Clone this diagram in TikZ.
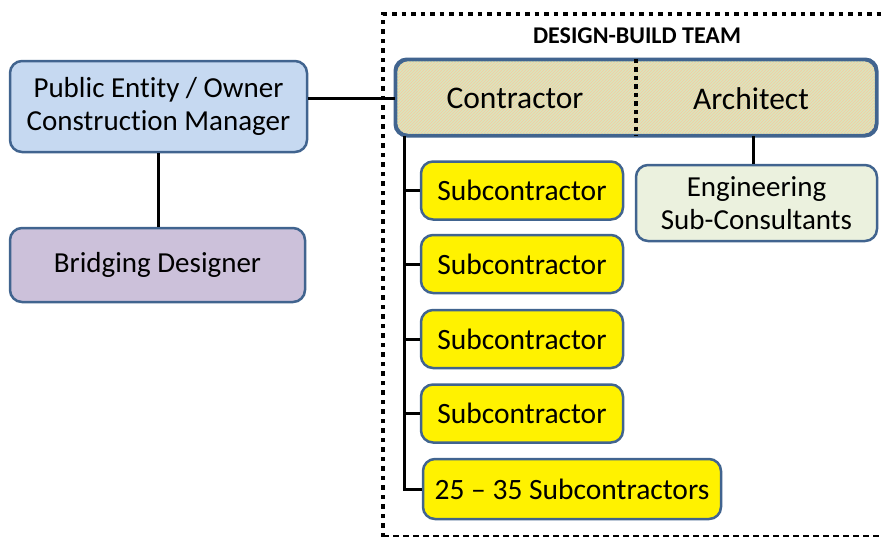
\documentclass[tikz,border=0pt]{standalone}
\usepackage{fontspec}
\setmainfont{Carlito}[Ligatures=NoCommon]
\usetikzlibrary{patterns}
\definecolor{edgeblue}{HTML}{41648F}
\definecolor{ownerfill}{HTML}{C6D9F1}
\definecolor{bridgefill}{HTML}{CCC1DA}
\definecolor{engfill}{HTML}{EBF1DE}
\definecolor{teamgreen}{HTML}{D8E6BE}
\definecolor{teamorange}{HTML}{F8C8A0}
\tikzset{
  orgbox/.style={draw=edgeblue, line width=2.5pt, rounded corners=12pt,
    align=center, inner sep=0pt, text=black,
    font=\fontsize{29}{33}\selectfont},
  subbox/.style={orgbox, fill=yellow, minimum width=202pt, minimum height=58pt,
    font=\fontsize{29.5}{33}\selectfont},
  link/.style={line width=3pt, black},
  teamedge/.style={line width=4.5pt, dash pattern=on 4.5pt off 5pt},
  bigtext/.style={font=\fontsize{31.5}{36}\selectfont, inner sep=0pt}
}
\begin{document}
\begin{tikzpicture}[x=1pt, y=-1pt]
\useasboundingbox (0,0) rectangle (881,536);

% design-build team frame (right side runs off the page)
\draw[teamedge] (383,537) -- (383,14) -- (900,14);
\draw[line width=2pt, dash pattern=on 6pt off 4pt] (383,535.5) -- (900,535.5);
\node[font=\fontsize{24}{28}\selectfont\bfseries, inner sep=0pt] (title) at (637,36) {DESIGN-BUILD TEAM};

% owner side
\node[orgbox, fill=ownerfill, minimum width=297pt, minimum height=91pt] (owner) at (158.5,106.5)
  {Public Entity / Owner\\Construction Manager};
\node[orgbox, fill=bridgefill, minimum width=295pt, minimum height=74pt] (bridge) at (157.5,265)
  {Bridging Designer};

% contractor / architect team box
\node[orgbox, fill=teamgreen, minimum width=480pt, minimum height=75pt] (team) at (636,97.5) {};
\path[pattern=north east lines, pattern color=teamorange, rounded corners=10pt]
  (397.5,61.5) rectangle (874.5,133.5);
\draw[draw=edgeblue, line width=2.5pt, rounded corners=12pt] (team.north west) rectangle (team.south east);
\coordinate (divider) at (636,97.5);
\draw[line width=4pt, dash pattern=on 4.5pt off 4pt] (divider |- team.north) -- (divider |- team.south);
\node[bigtext] (contractor) at (515,98) {Contractor};
\node[bigtext] (architect) at (751,99) {Architect};

\node[orgbox, fill=engfill, minimum width=241pt, minimum height=76pt] (eng) at (756.5,203)
  {Engineering\\Sub-Consultants};

% subcontractors
\node[subbox] (sub1) at (522,190.5) {Subcontractor};
\node[subbox] (sub2) at (522,264) {Subcontractor};
\node[subbox] (sub3) at (522,339) {Subcontractor};
\node[subbox] (sub4) at (522,413.5) {Subcontractor};
\node[subbox, minimum width=298pt, minimum height=60pt] (sub5) at (572,489) {25 -- 35 Subcontractors};

% connectors
\coordinate (ownerlink) at (0,98);
\coordinate (bridgelink) at (158,0);
\coordinate (trunk) at (404,135);
\coordinate (englink) at (753,0);
\draw[link] (owner.east |- ownerlink) -- (team.west |- ownerlink);
\draw[link] (owner.south -| bridgelink) -- (bridge.north -| bridgelink);
\draw[link] (trunk |- team.south) -- (trunk |- sub5.west) -- (sub5.west);
\draw[link] (trunk |- sub1.west) -- (sub1.west);
\draw[link] (trunk |- sub2.west) -- (sub2.west);
\draw[link] (trunk |- sub3.west) -- (sub3.west);
\draw[link] (trunk |- sub4.west) -- (sub4.west);
\draw[link] (team.south -| englink) -- (eng.north -| englink);
\end{tikzpicture}
\end{document}
